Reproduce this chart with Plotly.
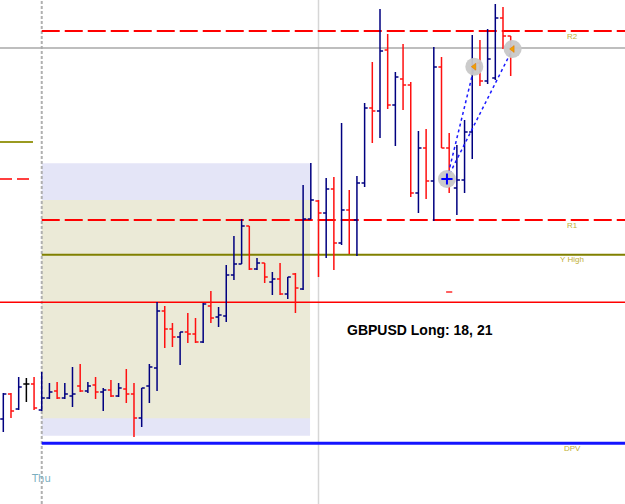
import plotly.graph_objects as go

# ---- OHLC data (price in pips, bar index on x) ----
bar_index = list(range(67))
opens = [81, 106, 91, 116, 116, 90, 102, 109, 102, 104, 114, 109, 115, 108, 110, 104, 111, 106, 82, 114,
         132, 189, 171, 163, 168, 166, 158, 194, 183, 184, 225, 236, 274, 231, 237, 218, 221, 206, 226, 211,
         281, 299, 287, 311, 257, 290, 280, 317, 392, 389, 450, 395, 421, 415, 307, 352, 319, 433, 352, 312,
         320, 368, 437, 419, 422, 482, 464]
highs = [107, 107, 123, 122, 123, 128, 117, 118, 117, 133, 136, 118, 123, 112, 120, 117, 131, 117, 112, 136,
         198, 194, 177, 168, 187, 182, 197, 209, 193, 235, 264, 281, 274, 242, 237, 228, 237, 223, 227, 315,
         337, 300, 322, 323, 377, 310, 324, 397, 438, 491, 466, 428, 456, 418, 369, 371, 453, 443, 367, 355,
         380, 465, 460, 471, 496, 493, 464]
lows = [68, 82, 90, 98, 90, 89, 101, 101, 101, 93, 108, 107, 101, 89, 103, 103, 97, 63, 73, 97,
        109, 152, 153, 135, 157, 157, 157, 177, 173, 178, 220, 236, 230, 230, 217, 205, 205, 201, 187, 210,
        281, 223, 242, 230, 255, 246, 244, 313, 357, 362, 391, 354, 390, 303, 287, 301, 279, 352, 307, 285,
        307, 341, 414, 416, 420, 451, 424]
closes = [106, 89, 113, 116, 92, 102, 108, 102, 106, 106, 109, 114, 108, 110, 104, 112, 106, 82, 112, 133,
          189, 171, 163, 168, 166, 158, 196, 182, 185, 225, 236, 274, 231, 237, 223, 221, 206, 223, 212, 281,
          300, 287, 311, 257, 290, 280, 317, 392, 389, 449, 395, 423, 415, 307, 352, 319, 433, 352, 320, 320,
          368, 430, 419, 441, 482, 464, 452]
doji_bars = [3]

# ---- levels ----
level_r2 = 469
level_gray = 452
level_r1 = 280
level_yhigh = 245.3
level_red = 197.7
level_dpv = 56.7
left_olive = 358
left_entry = 321
zone_outer = (64.3, 336.7)
zone_inner = (81.7, 300)
zone_start, zone_end = 5.0, 39.9
session_start = 5.0
now_line = 41.0
pending_mark = 208

# ---- trade markers ----
trade_x = [57.71, 61.27, 66.25]
trade_y = [321, 433.3, 451]

level_labels = ["R2", "R1", "Y High", "DPV"]
level_label_y = [464, 275, 241, 52]

X0, X1 = -0.43, 80.87
Y0, Y1 = -4, 500

main_idx = [i for i in bar_index if i not in doji_bars]

fig = go.Figure()

fig.add_trace(go.Ohlc(
    x=[bar_index[i] for i in main_idx],
    open=[opens[i] for i in main_idx],
    high=[highs[i] for i in main_idx],
    low=[lows[i] for i in main_idx],
    close=[closes[i] for i in main_idx],
    increasing=dict(line=dict(color="#000080", width=1.5)),
    decreasing=dict(line=dict(color="#ff1010", width=1.5)),
    tickwidth=0.4, showlegend=False, hoverinfo="skip"))

fig.add_trace(go.Ohlc(
    x=[bar_index[i] for i in doji_bars],
    open=[opens[i] for i in doji_bars],
    high=[highs[i] for i in doji_bars],
    low=[lows[i] for i in doji_bars],
    close=[closes[i] for i in doji_bars],
    increasing=dict(line=dict(color="#000000", width=1.5)),
    decreasing=dict(line=dict(color="#000000", width=1.5)),
    tickwidth=0.4, showlegend=False, hoverinfo="skip"))

# trade connection lines
for k in (1, 2):
    fig.add_trace(go.Scatter(x=[trade_x[0], trade_x[k]], y=[trade_y[0], trade_y[k]], mode="lines",
                             line=dict(color="#1a1aff", width=1.5, dash="dot"),
                             showlegend=False, hoverinfo="skip"))

fig.add_trace(go.Scatter(x=trade_x, y=trade_y, mode="markers",
                         marker=dict(size=18, color="#c8c8c8", opacity=0.95),
                         showlegend=False, hoverinfo="skip"))
fig.add_trace(go.Scatter(x=trade_x[:1], y=trade_y[:1], mode="markers",
                         marker=dict(symbol="cross-thin", size=8, line=dict(color="#0000ff", width=2)),
                         showlegend=False, hoverinfo="skip"))
fig.add_trace(go.Scatter(x=trade_x[1:], y=trade_y[1:], mode="markers",
                         marker=dict(symbol="triangle-left", size=6, color="#f0a000",
                                     line=dict(color="#e07000", width=0.5)),
                         showlegend=False, hoverinfo="skip"))

shapes = []
def hline(y, x0, x1, color, width, dash="solid"):
    shapes.append(dict(type="line", xref="x", yref="y", x0=x0, x1=x1, y0=y, y1=y,
                       line=dict(color=color, width=width, dash=dash), layer="below"))

shapes.append(dict(type="rect", xref="x", yref="y", x0=zone_start, x1=zone_end,
                   y0=zone_outer[0], y1=zone_outer[1], fillcolor="#e4e5f7",
                   line=dict(width=0), layer="below"))
shapes.append(dict(type="rect", xref="x", yref="y", x0=zone_start, x1=zone_end,
                   y0=zone_inner[0], y1=zone_inner[1], fillcolor="#ebead7",
                   line=dict(width=0), layer="below"))

shapes.append(dict(type="line", xref="x", yref="y", x0=session_start, x1=session_start, y0=Y0, y1=Y1,
                   line=dict(color="#b0b0b0", width=2, dash="3px,2px"), layer="below"))
shapes.append(dict(type="line", xref="x", yref="y", x0=now_line, x1=now_line, y0=Y0, y1=Y1,
                   line=dict(color="#d6d6d6", width=1.5), layer="below"))

hline(level_gray, X0, X1, "#a8a8a8", 1.5)
hline(level_r2, session_start, X1, "#ff0000", 2, "18px,5px")
hline(level_r1, session_start, X1, "#ff0000", 2, "18px,5px")
hline(level_yhigh, session_start, X1, "#808000", 2)
hline(level_red, X0, X1, "#ff0000", 1.5)
hline(level_dpv, session_start, X1, "#1414ff", 3)
hline(left_olive, X0, 3.86, "#9a9a20", 2)
hline(left_entry, X0, 3.86, "#ff0000", 1.5, "12px,5px")
hline(pending_mark, 57.6, 58.4, "#ff6060", 2)

annotations = []
for lbl, ly in zip(level_labels, level_label_y):
    annotations.append(dict(x=74, y=ly, xref="x", yref="y", text=lbl, showarrow=False,
                            xanchor="center", yanchor="middle",
                            font=dict(family="Liberation Sans", size=8, color="#c2b034")))
annotations.append(dict(x=4.9, y=22, xref="x", yref="y", text="Thu", showarrow=False,
                        xanchor="center", yanchor="middle",
                        font=dict(family="DejaVu Sans", size=10, color="#7aaebf")))
annotations.append(dict(x=54.2, y=170, xref="x", yref="y", text="<b>GBPUSD Long: 18, 21</b>",
                        showarrow=False, xanchor="center", yanchor="middle",
                        font=dict(family="Liberation Sans", size=14, color="#000000")))

fig.update_layout(
    width=625, height=504,
    margin=dict(l=0, r=0, t=0, b=0),
    paper_bgcolor="white", plot_bgcolor="white",
    shapes=shapes, annotations=annotations,
    hovermode=False, showlegend=False,
    xaxis=dict(range=[X0, X1], visible=False, showgrid=False, zeroline=False,
               rangeslider=dict(visible=False), fixedrange=True),
    yaxis=dict(range=[Y0, Y1], visible=False, showgrid=False, zeroline=False, fixedrange=True),
)

fig.write_html("out.html", config={"displayModeBar": False})
